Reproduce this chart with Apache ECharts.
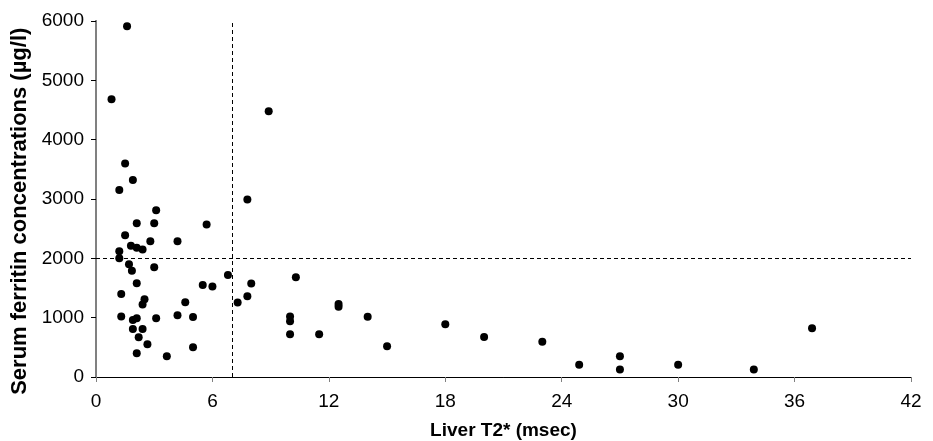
<!DOCTYPE html>
<html>
<head>
<meta charset="utf-8">
<script src="https://cdn.jsdelivr.net/npm/echarts@6/dist/echarts.min.js"></script>
<style>html,body{margin:0;padding:0;background:#fff;}#c{width:933px;height:441px;}</style>
</head>
<body>
<div id="c"></div>
<script>
const liverT2 = [1.6, 0.8, 8.9, 1.5, 1.9, 1.2, 7.8, 3.1, 2.1, 3.0, 5.7, 1.5, 2.8, 4.2, 1.8, 2.1, 2.4, 1.2, 1.2, 1.7, 1.85, 3.0,
  2.1, 5.5, 1.3, 2.5, 2.4, 4.6, 1.3, 1.9, 2.1, 3.1, 4.2, 5.0, 1.9, 2.4, 2.2, 2.65, 5.0, 2.1, 3.65,
  6.8, 6.0, 8.0, 10.3, 7.8, 7.3, 10.0, 10.0, 10.0, 11.5,
  12.5, 12.5, 14.0, 15.0, 18.0, 20.0, 23.0, 24.9, 27.0, 27.0, 30.0, 33.9, 36.9];
const ferritin = [5910, 4680, 4480, 3600, 3320, 3150, 2990, 2810, 2590, 2590, 2570, 2390, 2290, 2290, 2210, 2180, 2150, 2120, 2000, 1900, 1790, 1850,
  1580, 1550, 1400, 1310, 1220, 1260, 1020, 960, 990, 990, 1040, 1010, 810, 810, 670, 550, 500, 400, 350,
  1720, 1525, 1575, 1680, 1360, 1255, 1020, 940, 720, 720,
  1230, 1185, 1015, 520, 890, 675, 595, 205, 350, 125, 205, 125, 820];
const xTicks = {min: 0, max: 42, interval: 6};
const yTicks = {min: 0, max: 6000, interval: 1000};
const cutoffT2 = 7;
const cutoffFerritin = 2000;
const xTitle = 'Liver T2* (msec)';
const yTitle = 'Serum ferritin concentrations (\u00b5g/l)';

const points = liverT2.map((x, i) => [x, ferritin[i]]);
const font = 'Liberation Sans, Arial, sans-serif';
const chart = echarts.init(document.getElementById('c'), null, {renderer: 'canvas'});
chart.setOption({
  animation: false,
  backgroundColor: '#fff',
  grid: {left: 96, right: 22, top: 21, bottom: 64, containLabel: false, outerBoundsMode: 'none'},
  xAxis: [{
    type: 'value', min: xTicks.min, max: xTicks.max, interval: xTicks.interval,
    name: xTitle, nameLocation: 'middle', nameGap: 44,
    nameTextStyle: {fontFamily: font, fontWeight: 'bold', fontSize: 19, color: '#000'},
    axisLine: {show: true, lineStyle: {color: '#000', width: 1}},
    axisTick: {show: true, length: 5, lineStyle: {color: '#808080', width: 1}},
    axisLabel: {fontFamily: font, fontSize: 19, color: '#000', margin: 15},
    splitLine: {show: false}
  }, {
    type: 'value', position: 'top', min: xTicks.min, max: xTicks.max,
    axisLine: {show: true, lineStyle: {color: '#000', width: 1}},
    axisTick: {show: false}, axisLabel: {show: false}, splitLine: {show: false}
  }],
  yAxis: [{
    type: 'value', min: yTicks.min, max: yTicks.max, interval: yTicks.interval,
    name: yTitle + '\u00a0\u00a0\u00a0\u00a0', nameLocation: 'middle', nameGap: 62,
    nameTextStyle: {fontFamily: font, fontWeight: 'bold', fontSize: 22, color: '#000'},
    axisLine: {show: true, lineStyle: {color: '#808080', width: 2}},
    axisTick: {show: true, length: 5, lineStyle: {color: '#000', width: 1}},
    axisLabel: {fontFamily: font, fontSize: 19, color: '#000', margin: 12, formatter: v => String(v)},
    splitLine: {show: false}
  }, {
    type: 'value', position: 'right', min: yTicks.min, max: yTicks.max,
    axisLine: {show: true, lineStyle: {color: '#808080', width: 2}},
    axisTick: {show: false}, axisLabel: {show: false}, splitLine: {show: false}
  }],
  series: [{
    type: 'scatter',
    data: points,
    symbol: 'circle',
    symbolSize: 8,
    itemStyle: {color: '#000', opacity: 1},
    markLine: {
      silent: true,
      symbol: ['none', 'none'],
      label: {show: false},
      lineStyle: {color: '#000', width: 1, type: [4, 3]},
      data: [{xAxis: cutoffT2}, {yAxis: cutoffFerritin}]
    }
  }]
});
</script>
</body>
</html>
